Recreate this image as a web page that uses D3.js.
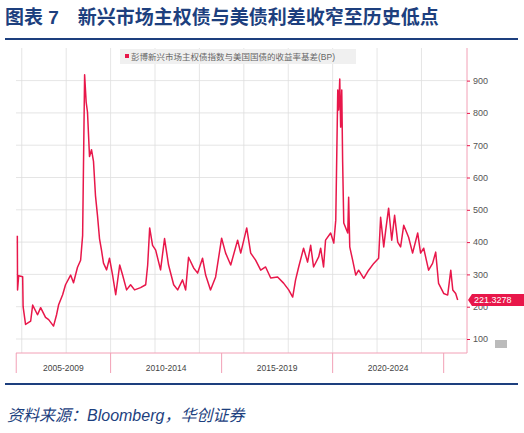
<!DOCTYPE html>
<html>
<head>
<meta charset="utf-8">
<script src="https://cdn.jsdelivr.net/npm/d3@7"></script>
<style>
  body { margin: 0; background: #fff; }
  svg text { font-family: "Liberation Sans", "Noto Sans CJK SC", sans-serif; }
</style>
</head>
<body>
<div id="chart"></div>
<script>
// Spread of EM sovereign index over US Treasuries (bp)
const years = [2005.80, 2005.81, 2005.86, 2006.04, 2006.06, 2006.17, 2006.40, 2006.49, 2006.71, 2006.85,
  2007.07, 2007.21, 2007.43, 2007.57, 2007.66, 2007.84, 2007.97, 2008.20, 2008.33, 2008.51,
  2008.65, 2008.74, 2008.83, 2008.90, 2008.96, 2009.05, 2009.14, 2009.23, 2009.32, 2009.41,
  2009.50, 2009.59, 2009.68, 2009.82, 2009.95, 2010.09, 2010.23, 2010.41, 2010.54, 2010.72,
  2010.90, 2011.08, 2011.35, 2011.58, 2011.67, 2011.76, 2011.89, 2012.03, 2012.25, 2012.43,
  2012.61, 2012.84, 2013.02, 2013.24, 2013.38, 2013.51, 2013.74, 2013.92, 2014.14, 2014.28,
  2014.50, 2014.73, 2015.00, 2015.18, 2015.41, 2015.72, 2015.86, 2016.13, 2016.31, 2016.53,
  2016.76, 2016.98, 2017.21, 2017.52, 2017.79, 2018.02, 2018.20, 2018.33, 2018.47, 2018.69,
  2018.87, 2019.01, 2019.14, 2019.37, 2019.46, 2019.59, 2019.68, 2019.91, 2020.05, 2020.14,
  2020.23, 2020.27, 2020.32, 2020.36, 2020.41, 2020.45, 2020.50, 2020.68, 2020.72, 2020.77,
  2020.90, 2021.04, 2021.17, 2021.40, 2021.62, 2021.85, 2022.07, 2022.16, 2022.30, 2022.39,
  2022.52, 2022.66, 2022.79, 2022.93, 2023.06, 2023.20, 2023.42, 2023.60, 2023.83, 2023.96,
  2024.10, 2024.32, 2024.50, 2024.64, 2024.77, 2025.00, 2025.18, 2025.32, 2025.41, 2025.54, 2025.63];
const spread = [420, 252, 296, 293, 200, 145, 155, 205, 175, 197,
  167, 160, 140, 176, 206, 237, 268, 298, 274, 322,
  344, 420, 918, 833, 802, 665, 686, 650, 543, 482,
  411, 375, 335, 314, 350, 298, 237, 329, 298, 252,
  268, 252, 259, 268, 329, 444, 390, 375, 314, 411,
  329, 268, 252, 283, 252, 353, 320, 304, 350, 298,
  252, 292, 412, 366, 329, 406, 366, 444, 366, 344,
  313, 323, 289, 292, 273, 252, 230, 283, 323, 381,
  338, 390, 323, 354, 381, 323, 406, 428, 397, 468,
  871, 809, 905, 756, 871, 648, 459, 428, 539, 385,
  344, 298, 313, 288, 313, 334, 350, 477, 385, 437,
  505, 406, 483, 400, 385, 452, 415, 366, 428, 366,
  381, 313, 334, 369, 272, 241, 236, 313, 252, 241, 221];
const yTicks = [100, 200, 300, 400, 500, 600, 700, 800, 900];
const gridYears = [2006, 2008, 2010, 2012, 2014, 2016, 2018, 2020, 2022, 2024];
const periods = [
  {label: "2005-2009", from: 2005.75, to: 2010},
  {label: "2010-2014", from: 2010, to: 2015},
  {label: "2015-2019", from: 2015, to: 2020},
  {label: "2020-2024", from: 2020, to: 2025}
];
const lastValue = "221.3278";

const width = 524, height = 433;
const plot = {left: 16, right: 467, top: 48, bottom: 353};
const red = "#e8174a", pink = "#f2a0b6", navy = "#1d3f7e";

const svg = d3.select("#chart").append("svg")
  .attr("width", width).attr("height", height);

// title + rules
svg.append("text").attr("x", 5).attr("y", 24)
  .attr("font-size", 19).attr("font-weight", "bold").attr("fill", navy)
  .attr("font-family", "'Noto Sans CJK SC', sans-serif")
  .text("图表 7　新兴市场主权债与美债利差收窄至历史低点");
svg.append("line").attr("x1", 5).attr("x2", 518).attr("y1", 39).attr("y2", 39)
  .attr("stroke", navy).attr("stroke-width", 2);
svg.append("line").attr("x1", 5).attr("x2", 518).attr("y1", 384).attr("y2", 384)
  .attr("stroke", navy).attr("stroke-width", 2);

const x = d3.scaleLinear().domain([2005.74, 2026.05]).range([plot.left, plot.right]);
const y = d3.scaleLinear().domain([0, 900]).range([371.3, 80.6]);

// grid
svg.append("g").selectAll("line").data(yTicks).join("line")
  .attr("x1", plot.left).attr("x2", plot.right)
  .attr("y1", d => y(d)).attr("y2", d => y(d))
  .attr("stroke", "#dedede").attr("stroke-width", 0.8);
svg.append("g").selectAll("line").data(gridYears).join("line")
  .attr("x1", d => x(d)).attr("x2", d => x(d))
  .attr("y1", plot.top).attr("y2", plot.bottom)
  .attr("stroke", "#dedede").attr("stroke-width", 0.8);

// legend
svg.append("rect").attr("x", 120).attr("y", 49).attr("width", 236).attr("height", 15).attr("fill", "#f0f0f0");
svg.append("rect").attr("x", 125).attr("y", 54).attr("width", 4).attr("height", 4).attr("fill", red);
svg.append("text").attr("x", 131).attr("y", 60).attr("font-size", 8.5).attr("fill", "#666")
  .text("彭博新兴市场主权债指数与美国国债的收益率基差(BP)");

// right axis
const yAxis = svg.append("g").attr("transform", `translate(${plot.right},0)`)
  .call(d3.axisRight(y).tickValues(yTicks).tickSize(3).tickPadding(3));
yAxis.select(".domain").attr("stroke", pink).attr("d", `M0,${plot.top}V${plot.bottom}`);
yAxis.selectAll(".tick line").attr("stroke", red);
yAxis.selectAll(".tick text").attr("fill", "#555").attr("font-size", 9);

// bottom axis + period bands
svg.append("line").attr("x1", plot.left).attr("x2", plot.right)
  .attr("y1", plot.bottom).attr("y2", plot.bottom).attr("stroke", pink);
const cuts = [periods[0].from].concat(periods.map(p => p.to));
svg.append("g").selectAll("line").data(cuts).join("line")
  .attr("x1", d => x(d)).attr("x2", d => x(d))
  .attr("y1", plot.bottom).attr("y2", 373).attr("stroke", pink);
svg.append("g").selectAll("text").data(periods).join("text")
  .attr("x", d => (x(d.from) + x(d.to)) / 2).attr("y", 371)
  .attr("text-anchor", "middle").attr("font-size", 8.5).attr("fill", "#444")
  .text(d => d.label);

// series
const line = d3.line().x((d, i) => x(years[i])).y(d => y(d));
svg.append("path").datum(spread).attr("d", line)
  .attr("fill", "none").attr("stroke", red).attr("stroke-width", 1.5)
  .attr("stroke-linejoin", "round");

// last value tag
const ty = y(spread[spread.length - 1]);
svg.append("path").attr("d", `M468,${ty} L472,${ty - 6} H524 V${ty + 6} H472 Z`).attr("fill", red);
svg.append("text").attr("x", 474).attr("y", ty + 3.5).attr("font-size", 9).attr("fill", "#fff").text(lastValue);
svg.append("rect").attr("x", 495).attr("y", 340).attr("width", 12).attr("height", 8).attr("fill", "#bbb");

// source
svg.append("text").attr("x", 7).attr("y", 421).attr("font-size", 16).attr("font-style", "italic")
  .attr("fill", navy).attr("font-family", "'Liberation Serif', 'Noto Sans CJK SC', serif")
  .text("资料来源：Bloomberg，华创证券");
</script>
</body>
</html>
